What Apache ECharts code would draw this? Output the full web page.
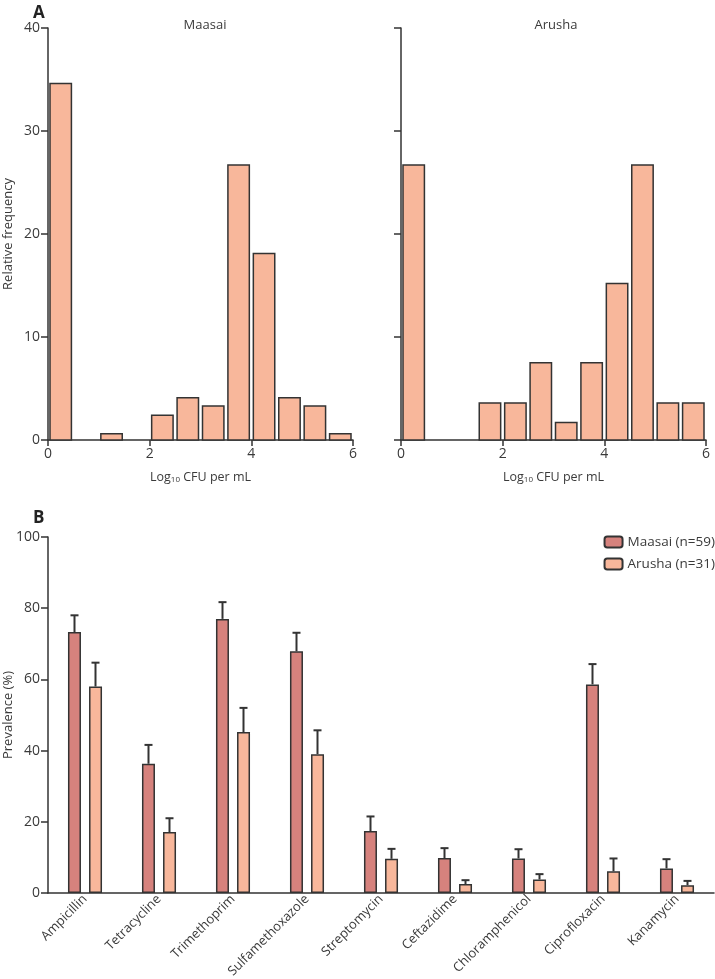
<!DOCTYPE html>
<html lang="en">
  <head>
    <meta charset="UTF-8" />
    <title>Chart</title>
    <style>
      html, body { margin: 0; padding: 0; background: #fff; }
    </style>
  </head>
  <body>
    <div id="main" style="width: 715px; height: 979px"></div>
    <script src="https://cdn.jsdelivr.net/npm/echarts@6/dist/echarts.min.js"></script>
    <script>
      // histogram bins (log10 CFU per mL)
      var binStarts = [0, 0.5, 1, 1.5, 2, 2.5, 3, 3.5, 4, 4.5, 5, 5.5];
      var binWidth = 0.5;
      var maasaiFreq = [34.6, 0, 0.6, 0, 2.4, 4.1, 3.3, 26.7, 18.1, 4.1, 3.3, 0.6];
      var arushaFreq = [26.7, 0, 0, 3.6, 3.6, 7.5, 1.7, 7.5, 15.2, 26.7, 3.6, 3.6];

      // panel B
      var drugs = ["Ampicillin", "Tetracycline", "Trimethoprim", "Sulfamethoxazole", "Streptomycin",
        "Ceftazidime", "Chloramphenicol", "Ciprofloxacin", "Kanamycin"];
      var maasaiPrev = [73.3, 36.3, 77.0, 67.9, 17.4, 9.8, 9.7, 58.6, 6.9];
      var maasaiUpper = [78.0, 41.6, 81.7, 73.1, 21.5, 12.6, 12.3, 64.3, 9.5];
      var arushaPrev = [58.0, 17.1, 45.2, 39.0, 9.6, 2.5, 3.8, 6.1, 2.2];
      var arushaUpper = [64.7, 21.0, 52.0, 45.7, 12.4, 3.6, 5.3, 9.7, 3.4];

      var dark = "#333";
      var peach = "#f8b79b";
      var rose = "#d6827d";
      var font = "Open Sans";
      var txt = "#3a3a3a";

      var chart = echarts.init(document.getElementById("main"));

      function histData(freq) {
        return binStarts.map(function (s, i) { return [s, s + binWidth, freq[i]]; });
      }

      function renderBin(params, api) {
        var v = api.value(2);
        if (!v) return null;
        var p0 = api.coord([api.value(0), v]);
        var p1 = api.coord([api.value(1), 0]);
        return {
          type: "rect",
          shape: { x: p0[0] + 2, y: p0[1], width: p1[0] - p0[0] - 4, height: p1[1] - p0[1] },
          style: { fill: peach, stroke: dark, lineWidth: 1.5 }
        };
      }

      function errData(vals, upper) {
        return vals.map(function (v, i) { return [i, v, upper[i]]; });
      }

      function errRender(offset) {
        return function (params, api) {
          var a = api.coord([api.value(0), api.value(1)]);
          var b = api.coord([api.value(0), api.value(2)]);
          var x = a[0] + offset;
          return {
            type: "group",
            children: [
              { type: "line", shape: { x1: x, y1: a[1], x2: x, y2: b[1] }, style: { stroke: dark, lineWidth: 2 } },
              { type: "line", shape: { x1: x - 4, y1: b[1], x2: x + 4, y2: b[1] }, style: { stroke: dark, lineWidth: 2 } }
            ]
          };
        };
      }

      var axisLine = { lineStyle: { color: dark, width: 1.5 } };
      var axisTick = { length: 6, lineStyle: { color: dark, width: 1.5 } };
      var axisLabel = { color: txt, fontFamily: font, fontSize: 14 };
      var xName = {
        name: "{n|Log}{s|10}{n| CFU per mL}",
        nameLocation: "middle",
        nameGap: 30,
        nameMoveOverlap: false,
        nameTextStyle: {
          rich: {
            n: { fontFamily: font, fontSize: 12.5, color: txt },
            s: { fontFamily: font, fontSize: 8, color: txt, verticalAlign: "bottom", padding: [6, 0, 0, 0] }
          }
        }
      };

      function histX(idx) {
        return Object.assign({
          type: "value", gridIndex: idx, min: 0, max: 6, interval: 2,
          splitLine: { show: false },
          axisLine: axisLine, axisTick: axisTick, axisLabel: Object.assign({ margin: 7 }, axisLabel)
        }, xName);
      }

      var option = {
        animation: false,
        textStyle: { fontFamily: font },
        title: [
          { text: "A", left: 28, top: 0, textStyle: { fontFamily: font, fontSize: 17, fontWeight: "bold", color: "#222" } },
          { text: "Maasai", left: 200, top: 14, textAlign: "center", textStyle: { fontFamily: font, fontSize: 13, fontWeight: "normal", color: txt } },
          { text: "Arusha", left: 551, top: 14, textAlign: "center", textStyle: { fontFamily: font, fontSize: 13, fontWeight: "normal", color: txt } },
          { text: "B", left: 28, top: 505, textStyle: { fontFamily: font, fontSize: 17, fontWeight: "bold", color: "#222" } }
        ],
        legend: {
          right: 0, top: 535, orient: "vertical", padding: 0,
          itemWidth: 18, itemHeight: 11, itemGap: 8,
          data: ["Maasai (n=59)", "Arusha (n=31)"],
          textStyle: { fontFamily: font, fontSize: 13.5, color: txt }
        },
        grid: [
          { left: 48, top: 28, width: 305, height: 412, outerBoundsMode: "none" },
          { left: 401, top: 28, width: 305, height: 412, outerBoundsMode: "none" },
          { left: 48, top: 537, width: 666, height: 356, outerBoundsMode: "none" }
        ],
        xAxis: [
          histX(0),
          histX(1),
          {
            type: "category", gridIndex: 2, data: drugs,
            axisLine: axisLine,
            axisTick: { length: 6, lineStyle: { color: dark, width: 1.5 } },
            axisLabel: { color: txt, fontFamily: font, fontSize: 13, rotate: 45, margin: 4, interval: 0 }
          }
        ],
        yAxis: [
          {
            type: "value", gridIndex: 0, min: 0, max: 40, interval: 10,
            name: "Relative frequency", nameLocation: "middle", nameGap: 33, nameMoveOverlap: false,
            nameTextStyle: { fontFamily: font, fontSize: 13, color: txt },
            splitLine: { show: false },
            axisLine: { show: true, lineStyle: { color: dark, width: 1.5 } },
            axisTick: { show: true, length: 7, lineStyle: { color: dark, width: 1.5 } },
            axisLabel: Object.assign({ margin: 8 }, axisLabel)
          },
          {
            type: "value", gridIndex: 1, min: 0, max: 40, interval: 10,
            splitLine: { show: false },
            axisLine: { show: true, lineStyle: { color: dark, width: 1.5 } },
            axisTick: { show: true, length: 7, lineStyle: { color: dark, width: 1.5 } },
            axisLabel: { show: false }
          },
          {
            type: "value", gridIndex: 2, min: 0, max: 100, interval: 20,
            name: "Prevalence (%)", nameLocation: "middle", nameGap: 33, nameMoveOverlap: false,
            nameTextStyle: { fontFamily: font, fontSize: 13, color: txt },
            splitLine: { show: false },
            axisLine: { show: true, lineStyle: { color: dark, width: 1.5 } },
            axisTick: { show: true, length: 7, lineStyle: { color: dark, width: 1.5 } },
            axisLabel: Object.assign({ margin: 8 }, axisLabel)
          }
        ],
        series: [
          {
            type: "custom", xAxisIndex: 0, yAxisIndex: 0, renderItem: renderBin,
            encode: { x: [0, 1], y: 2 }, data: histData(maasaiFreq)
          },
          {
            type: "custom", xAxisIndex: 1, yAxisIndex: 1, renderItem: renderBin,
            encode: { x: [0, 1], y: 2 }, data: histData(arushaFreq)
          },
          {
            name: "Maasai (n=59)", type: "bar", xAxisIndex: 2, yAxisIndex: 2,
            barWidth: 13, barGap: "62%", data: maasaiPrev,
            itemStyle: { color: rose, borderColor: dark, borderWidth: 1.5 }
          },
          {
            name: "Arusha (n=31)", type: "bar", xAxisIndex: 2, yAxisIndex: 2,
            barWidth: 13, barGap: "62%", data: arushaPrev,
            itemStyle: { color: peach, borderColor: dark, borderWidth: 1.5 }
          },
          {
            type: "custom", xAxisIndex: 2, yAxisIndex: 2, renderItem: errRender(-10.5),
            encode: { x: 0, y: [1, 2] }, data: errData(maasaiPrev, maasaiUpper), z: 3
          },
          {
            type: "custom", xAxisIndex: 2, yAxisIndex: 2, renderItem: errRender(10.5),
            encode: { x: 0, y: [1, 2] }, data: errData(arushaPrev, arushaUpper), z: 3
          }
        ]
      };

      chart.setOption(option);
    </script>
  </body>
</html>
